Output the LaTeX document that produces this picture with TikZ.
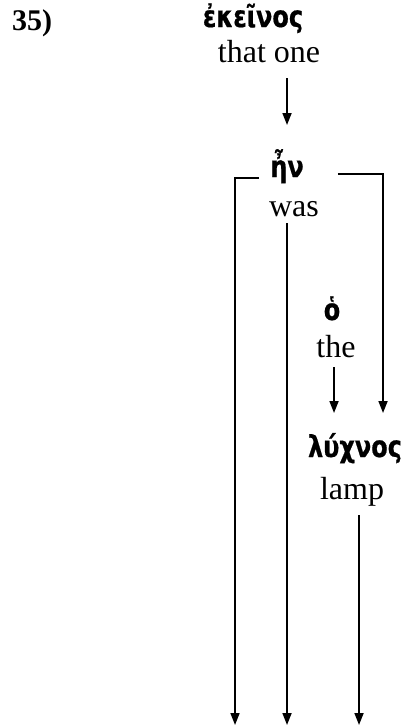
\documentclass[tikz,border=0pt]{standalone}
\usepackage{fontspec}
\setmainfont{Liberation Serif}
\newfontfamily\grk[FakeStretch=0.8,FakeBold=0.6]{DejaVu Sans}
\usetikzlibrary{arrows.meta}
\begin{document}
\begin{tikzpicture}[x=1pt,y=1pt,
  gk/.style={inner sep=0pt,anchor=base,font=\grk\bfseries\fontsize{30}{30}\selectfont},
  en/.style={inner sep=0pt,anchor=base,font=\fontsize{32}{32}\selectfont},
  arr/.style={line width=1.7pt,-{Triangle[length=12pt,width=9pt]}},
  ln/.style={line width=1.7pt}]
\useasboundingbox (0,0) rectangle (410,-726);
\node[inner sep=0pt,anchor=base west,font=\bfseries\fontsize{30}{30}\selectfont] (num) at (12,-30) {35)};
\node[gk] (ekeinos) at (253,-27) {ἐκεῖνος};
\node[en] (thatone) at (269,-62) {that one};
\node[gk] (en) at (287,-177) {ἦν};
\node[en] (was) at (294,-216) {was};
\node[gk] (ho) at (332,-320) {ὁ};
\node[en] (the) at (336,-357) {the};
\node[gk] (lychnos) at (355,-457) {λύχνος};
\node[en] (lamp) at (352,-499) {lamp};
\coordinate (bL) at (235,-725);
\coordinate (bM) at (287,-725);
\coordinate (bR) at (359,-725);
\draw[arr] ([yshift=-16pt]thatone.base -| en.base) -- ([yshift=52pt]en.base);
\draw[arr] ([xshift=-11pt,yshift=-1pt]en.base west) -| (bL);
\draw[arr] ([xshift=34pt,yshift=3pt]en.base east) -| ([yshift=-93pt]ho.base -| 383,0);
\draw[arr] ([yshift=-7pt]was.base -| bM) -- (bM);
\draw[arr] ([yshift=-10pt]the.base -| 334,0) -- ([yshift=-56pt]the.base -| 334,0);
\draw[arr] ([yshift=-16pt]lamp.base -| bR) -- (bR);
\end{tikzpicture}
\end{document}
